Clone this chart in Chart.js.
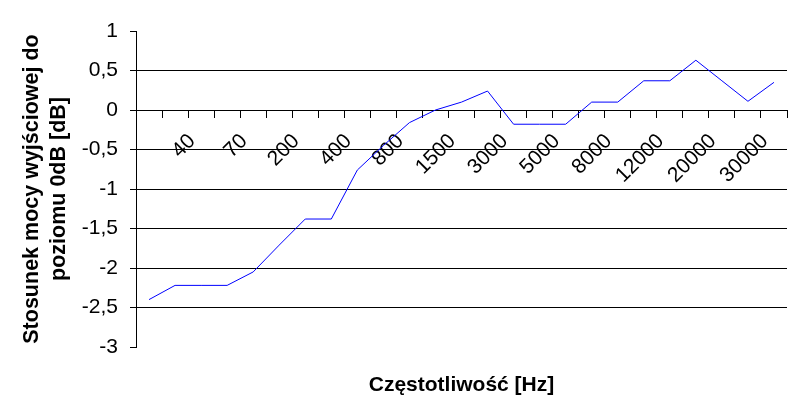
<!DOCTYPE html>
<html>
<head>
<meta charset="utf-8">
<script src="https://cdn.jsdelivr.net/npm/chart.js@4.4.1/dist/chart.umd.min.js"></script>
<style>
  html, body { margin: 0; padding: 0; background: #fff; }
  #wrap { width: 796px; height: 414px; }
</style>
</head>
<body>
<div id="wrap"><canvas id="chart"></canvas></div>
<script>
// Frequency response, Excel-style line chart
const frequencies = [20, 40, 50, 70, 100, 200, 300, 400, 600, 800, 1000, 1500, 2000,
  3000, 4000, 5000, 6000, 8000, 10000, 12000, 16000, 20000, 25000, 30000, 35000];
const levels = [-2.4, -2.22, -2.22, -2.22, -2.05, -1.71, -1.38, -1.38, -0.76, -0.45,
  -0.16, 0.0, 0.1, 0.24, -0.18, -0.18, -0.18, 0.1, 0.1, 0.37, 0.37, 0.63, 0.37, 0.11, 0.35];
const yTicks = [1, 0.5, 0, -0.5, -1, -1.5, -2, -2.5, -3];

const font = "'Liberation Sans', Arial, sans-serif";

const xTitle = {
  id: "xTitle",
  afterDraw: (chart) => {
    const { ctx, chartArea } = chart;
    ctx.save();
    ctx.fillStyle = "#000";
    ctx.font = `bold 21px ${font}`;
    ctx.textAlign = "center";
    ctx.textBaseline = "middle";
    ctx.fillText("Częstotliwość [Hz]", (chartArea.left + chartArea.right) / 2, 385);
    ctx.restore();
  },
};

new Chart(document.getElementById("chart").getContext("2d"), {
  type: "line",
  data: {
    labels: frequencies,
    datasets: [
      {
        data: levels,
        borderColor: "#0000ff",
        borderWidth: 1,
        pointRadius: 0,
        tension: 0,
        fill: false,
      },
    ],
  },
  options: {
    responsive: true,
    maintainAspectRatio: false,
    animation: false,
    layout: { padding: { left: 0, right: 9, top: 31, bottom: 67 } },
    plugins: { legend: { display: false }, tooltip: { enabled: false } },
    scales: {
      x: {
        type: "category",
        position: { y: 0 },
        offset: true,
        afterFit: (scale) => { scale.paddingLeft = 0; scale.paddingRight = 0; },
        border: { color: "#000", width: 1 },
        grid: {
          offset: true,
          drawOnChartArea: false,
          drawTicks: true,
          tickLength: 7,
          tickColor: "#000",
        },
        ticks: {
          autoSkip: false,
          maxRotation: 45,
          minRotation: 45,
          color: "#000",
          font: { family: font, size: 21 },
          padding: 12,
          labelOffset: 17,
          callback: (v, i) => (i % 2 === 1 ? String(frequencies[i]) : ""),
        },
      },
      y: {
        min: -3,
        max: 1,
        afterFit: (scale) => { scale.width = 136; },
        afterBuildTicks: (scale) => { scale.ticks = yTicks.map((v) => ({ value: v })); },
        border: { color: "#000", width: 1 },
        grid: {
          color: (c) => (c.tick && (c.tick.value === 1 || c.tick.value === -3) ? "rgba(0,0,0,0)" : "#000"),
          tickColor: "#000",
          tickLength: 6,
          lineWidth: 1,
        },
        ticks: {
          color: "#000",
          font: { family: font, size: 21 },
          padding: 12,
          callback: (v) => String(v).replace(".", ","),
        },
        title: {
          display: true,
          text: ["Stosunek mocy wyjściowej do", "poziomu 0dB [dB]"],
          color: "#000",
          font: { family: font, size: 21.5, weight: "bold", lineHeight: 1.25 },
          padding: { top: 19, bottom: 0 },
        },
      },
    },
  },
  plugins: [xTitle],
});
</script>
</body>
</html>
